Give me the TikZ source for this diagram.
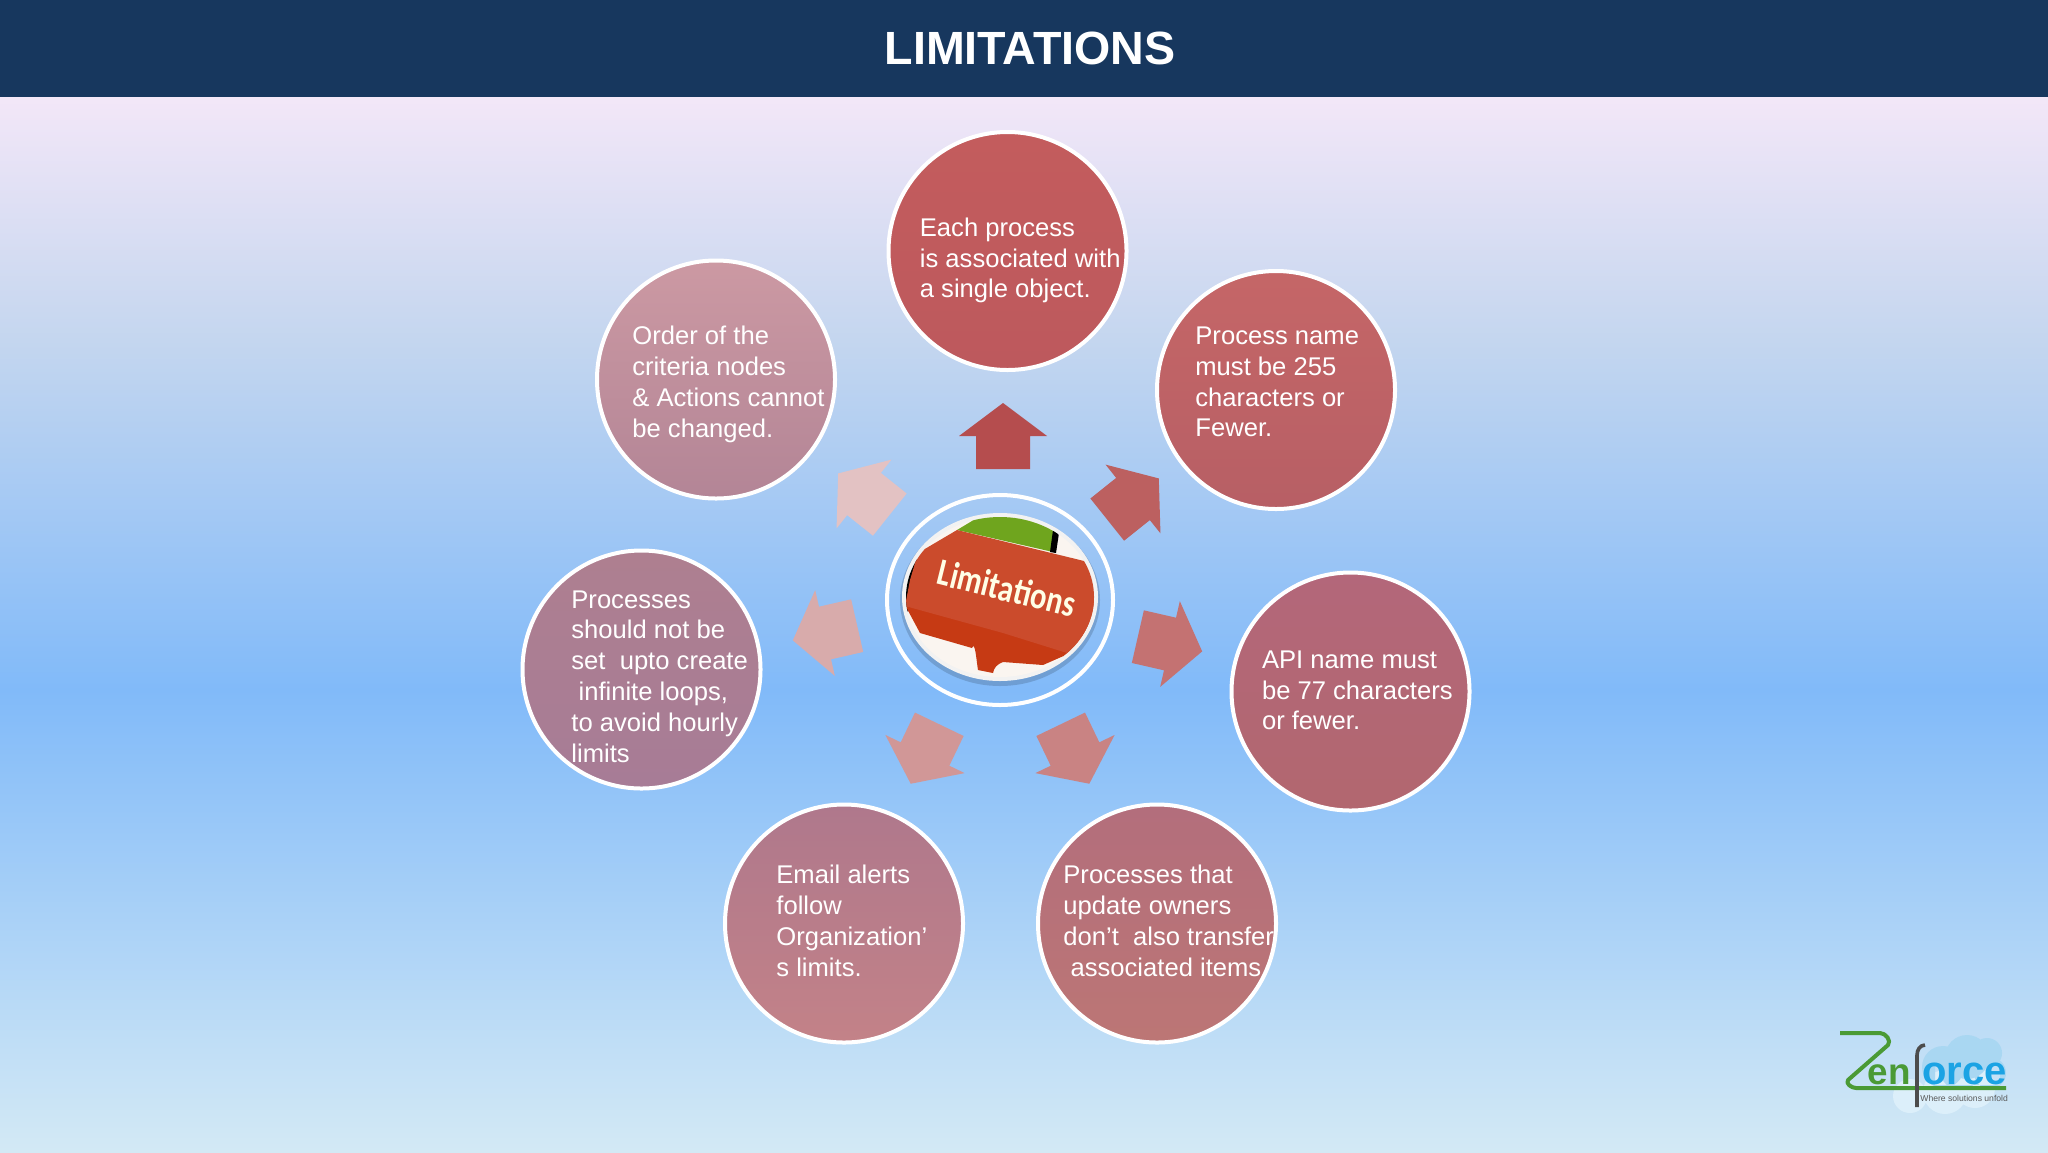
\documentclass[tikz,border=0pt]{standalone}
\usepackage{fontspec}
\setmainfont{Liberation Sans}
\newfontfamily\keyfont{Carlito}
\usetikzlibrary{shapes.geometric}
\definecolor{headbar}{HTML}{17375E}
\definecolor{skya}{HTML}{F3E7F8}
\definecolor{skyb}{HTML}{C4D6EF}
\definecolor{skyc}{HTML}{81BAF9}
\definecolor{skyd}{HTML}{D3E9F5}
\definecolor{keyred}{HTML}{CB4B2C}
\definecolor{keydark}{HTML}{C63A14}
\definecolor{keygreen}{HTML}{6FA51E}
\definecolor{logogreen}{HTML}{4A9A35}
\definecolor{logoblue}{HTML}{1BA3E4}
\definecolor{cloudtop}{HTML}{A9D7F2}
\definecolor{cloudlow}{HTML}{DCEFFA}
\definecolor{eachtop}{HTML}{C35C5D}
\definecolor{eachlow}{HTML}{BD595D}
\definecolor{nametop}{HTML}{C56667}
\definecolor{namelow}{HTML}{B75F65}
\definecolor{apitop}{HTML}{B3677A}
\definecolor{apilow}{HTML}{B2676F}
\definecolor{ownerstop}{HTML}{B36E7C}
\definecolor{ownerslow}{HTML}{BC7675}
\definecolor{emailtop}{HTML}{AF788C}
\definecolor{emaillow}{HTML}{C38288}
\definecolor{loopstop}{HTML}{AE7F90}
\definecolor{loopslow}{HTML}{A77C96}
\definecolor{ordertop}{HTML}{CC99A3}
\definecolor{orderlow}{HTML}{B38596}
\tikzset{
  bubble/.style={circle,draw=white,line width=2pt,minimum size=119pt,inner sep=0pt,top color=#1top,bottom color=#1low},
  bubbletext/.style={anchor=west,align=left,inner sep=0pt,text=white,font=\fontsize{12.8}{15.4}\selectfont},
}
\begin{document}
\begin{tikzpicture}[x=0.5pt,y=-0.5pt]
    \useasboundingbox (0,0) rectangle (2048,1152);
    \shade[top color=skya,bottom color=skyb] (0,96) rectangle (2048,340);
    \shade[top color=skyb,bottom color=skyc] (0,340) rectangle (2048,690);
    \shade[top color=skyc,bottom color=skyd] (0,690) rectangle (2048,1152);
    \fill[headbar] (0,0) rectangle (2048,96.5);
    \node[text=white,font=\fontsize{23.3}{26}\selectfont\bfseries] (title) at (1030,48) {LIMITATIONS};
    \foreach \cx/\cy/\rot/\col in {1003/436/0/B54D4E,1133/499/51.4/BC6060,1170/644/102.9/C47272,1075/754/154.3/C98383,925/754/205.7/D19797,825/633/257.1/D8ABAB,864/494/308.6/E3C2C3} {
      \definecolor{arrowcol}{HTML}{\col}
      \fill[arrowcol,shift={(\cx,\cy)},rotate=-\rot]
        (0,-33) -- (44,0) -- (27,0) -- (27,33) -- (-27,33) -- (-27,0) -- (-44,0) -- cycle;
    }
    \node[bubble=each] (each) at (1007.5,251) {};
    \node[bubble=name] (name) at (1276,390) {};
    \node[bubble=api] (api) at (1350.5,691.5) {};
    \node[bubble=owners] (owners) at (1157,923.5) {};
    \node[bubble=email] (email) at (844,923.5) {};
    \node[bubble=loops] (loops) at (641.5,669.5) {};
    \node[bubble=order] (order) at (716,379.5) {};
    \node[bubbletext] (eachtext) at (919.5,260.5) {Each process\\is associated with\\a single object.};
    \node[bubbletext] (nametext) at (1195,382) {Process name\\must be 255\\characters or\\Fewer.};
    \node[bubbletext] (apitext) at (1261.6,690.5) {API name must\\be 77 characters\\or fewer.};
    \node[bubbletext] (ownerstext) at (1063,921) {Processes that\\update owners\\don’t\ \ also transfer\\\hspace*{3.6pt}associated items};
    \node[bubbletext] (emailtext) at (776,921) {Email alerts\\follow\\Organization’\\s limits.};
    \node[bubbletext] (loopstext) at (571,676.5) {Processes\\should not be\\set\ \ upto create\\\hspace*{3.6pt}infinite loops,\\to avoid hourly\\limits};
    \node[bubbletext] (ordertext) at (632,384.5) {Order of the\\criteria nodes\\\&\ Actions cannot\\be changed.};
    \node[ellipse,draw=white,line width=2pt,minimum width=113pt,minimum height=105pt,inner sep=0pt] (hub) at (1000,600) {};
    \fill[black!60!skyc,opacity=.25] (1000,600) ellipse [x radius=100,y radius=86];
    \node[ellipse,fill=white!95!black,minimum width=98pt,minimum height=84pt,inner sep=0pt] (key) at (1000,597) {};
    \begin{scope}
      \clip (1000,597) ellipse [x radius=94,y radius=80];
      \fill[white!92!brown] (900,510) rectangle (1100,690);
      \fill[black] (902,550) -- (918,553) -- (910,610) -- (902,615) -- cycle;
      \fill[keygreen] (957,530) -- (987,512) -- (1057,525) -- (1053,552) -- cycle;
      \fill[black] (1053,530) -- (1059,533) -- (1056,553) -- (1050,552) -- cycle;
      \fill[keydark] (905,605) -- (920,633) -- (972,648) to[out=70,in=100] (978,670) -- (993,673) to[out=80,in=200] (1003,662) -- (1043,665) -- (1100,640) -- (1100,600) -- cycle;
      \fill[keyred] (957,530) -- (1080,560) -- (1100,565) -- (1100,665) -- (1067,653) -- (1003,633) -- (905,606) -- (910,580) -- (918,553) -- cycle;
      \node[rotate=-14,text=white!90!yellow,font=\keyfont\bfseries\fontsize{19}{21}\selectfont,inner sep=0pt] (keylabel) at (1007,588) {\scalebox{.8}[1]{Limitations}};
    \end{scope}
    \fill[cloudlow] (1910,1096) circle (17) (1945,1092) circle (22) (1975,1088) circle (20);
    \fill[cloudtop] (1967,1057) circle (22) (1987,1053) circle (15) (1943,1067) circle (21) (1990,1073) circle (16) (1960,1070) circle (20) (1935,1065) rectangle (2000,1085);
    \node[text=logogreen,font=\fontsize{18.4}{19}\selectfont\bfseries,anchor=base,inner sep=0pt] (logoen) at (1889,1084) {en};
    \node[text=logoblue,font=\fontsize{20}{21}\selectfont\bfseries,anchor=base west,inner sep=0pt] (logoorce) at (1922,1084) {orce};
    \draw[logogreen,line width=2pt,line join=round] (1840,1033) -- (1880,1033) to[out=0,in=50] (1888,1045) -- (1848,1080) to[out=230,in=180] (1856,1088) -- (2006,1088);
    \draw[black!70,line width=1.8pt] (1917,1107) -- (1917,1055) to[out=90,in=180] (1925,1045);
    \node[text=black!65,font=\fontsize{4.3}{5}\selectfont,anchor=west,inner sep=0pt] (logotag) at (1920,1098) {Where solutions unfold};
  \end{tikzpicture}
\end{document}
